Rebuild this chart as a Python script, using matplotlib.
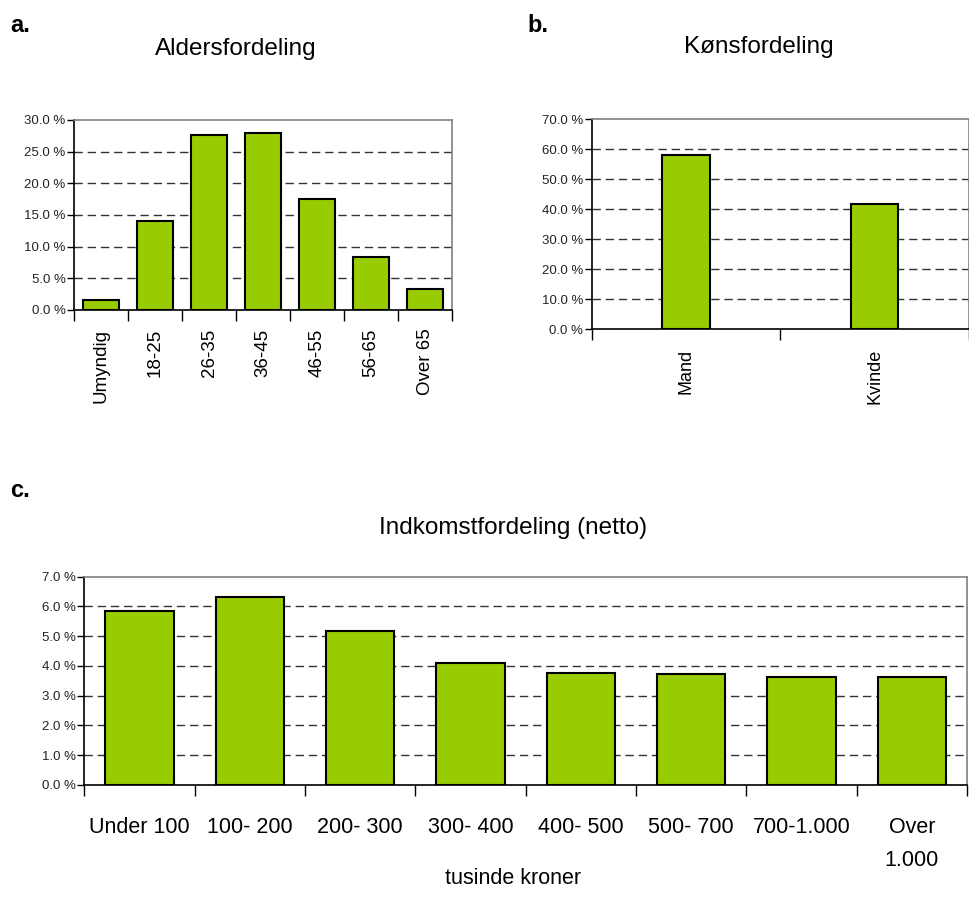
import matplotlib
matplotlib.use('Agg')
import matplotlib.pyplot as plt
from matplotlib.ticker import FuncFormatter, FixedLocator
import numpy as np

plt.rcParams['font.family'] = ['Liberation Sans', 'DejaVu Sans']

# data
alder_labels = ['Umyndig', '18-25', '26-35', '36-45', '46-55', '56-65', 'Over 65']
alder_values = [1.5, 14.0, 27.6, 27.9, 17.5, 8.3, 3.3]

koen_labels = ['Mand', 'Kvinde']
koen_values = [58.1, 41.6]

indk_labels = ['Under 100', '100- 200', '200- 300', '300- 400', '400- 500',
               '500- 700', '700-1.000', 'Over\n1.000']
indk_values = [5.86, 6.33, 5.18, 4.10, 3.77, 3.71, 3.63, 3.63]

green = '#99CC00'
pct = FuncFormatter(lambda v, p: '%.1f %%' % v)


def style_axes(ax, n, ymax, ystep):
    ax.set_xlim(-0.5, n - 0.5)
    ax.set_ylim(0, ymax)
    ax.set_yticks(np.arange(0, ymax + ystep / 2, ystep))
    ax.yaxis.set_major_formatter(pct)
    ax.set_xticks(range(n))
    ax.xaxis.set_minor_locator(FixedLocator(np.arange(-0.5, n, 1.0)))
    ax.tick_params(axis='x', which='major', length=0)
    ax.tick_params(axis='x', which='minor', length=8, width=1, color='black', direction='out')
    ax.tick_params(axis='y', length=5, width=1, direction='out', labelsize=9.5, pad=1,
                   colors='black', labelcolor='#222222')
    for s in ['left', 'bottom']:
        ax.spines[s].set_color('black')
        ax.spines[s].set_linewidth(1.2)
    for s in ['top', 'right']:
        ax.spines[s].set_color('#808080')
        ax.spines[s].set_linewidth(1.2)
    ax.set_axisbelow(True)
    for y in np.arange(ystep, ymax - ystep / 2, ystep):
        ax.axhline(y, color='#333333', lw=1, dashes=(6, 3.5), zorder=0)


fig = plt.figure(figsize=(9.7, 9.13), dpi=100)

# a. Aldersfordeling
ax1 = fig.add_axes([0.0763, 0.6605, 0.3897, 0.2081])
ax1.bar(range(len(alder_values)), alder_values, width=0.65, color=green,
        edgecolor='black', linewidth=1.5, zorder=2)
style_axes(ax1, len(alder_values), 30, 5)
ax1.set_xticklabels(alder_labels, rotation=90, fontsize=13.5, va='top')
ax1.tick_params(axis='x', which='major', pad=13.5)

# b. Koensfordeling
ax2 = fig.add_axes([0.610, 0.6396, 0.389, 0.2297])
ax2.bar(range(len(koen_values)), koen_values, width=0.25, color=green,
        edgecolor='black', linewidth=1.5, zorder=2)
style_axes(ax2, len(koen_values), 70, 10)
ax2.set_xticklabels(koen_labels, rotation=90, fontsize=13, va='top')
ax2.tick_params(axis='x', which='major', pad=14)

# c. Indkomstfordeling
ax3 = fig.add_axes([0.0869, 0.1405, 0.9101, 0.2278])
ax3.bar(range(len(indk_values)), indk_values, width=0.62, color=green,
        edgecolor='black', linewidth=1.5, zorder=2)
style_axes(ax3, len(indk_values), 7, 1)
ax3.set_xticklabels(indk_labels, fontsize=15.5, va='top', linespacing=1.8)
ax3.tick_params(axis='x', which='major', pad=23)

# titles and panel letters
fig.text(236 / 970, 1 - 49 / 913, 'Aldersfordeling', fontsize=17.5, ha='center', va='center')
fig.text(759 / 970, 1 - 47 / 913, 'Kønsfordeling', fontsize=17.5, ha='center', va='center')
fig.text(513 / 970, 1 - 528 / 913, 'Indkomstfordeling (netto)', fontsize=17.5, ha='center', va='center')
fig.text(513 / 970, 1 - 878 / 913, 'tusinde kroner', fontsize=15.5, ha='center', va='center')
fig.text(10 / 970, 1 - 25 / 913, 'a.', fontsize=17, fontweight='bold', ha='left', va='center')
fig.text(527 / 970, 1 - 25 / 913, 'b.', fontsize=17, fontweight='bold', ha='left', va='center')
fig.text(10 / 970, 1 - 490 / 913, 'c.', fontsize=17, fontweight='bold', ha='left', va='center')

fig.savefig('out.png', dpi=100, facecolor='white')
